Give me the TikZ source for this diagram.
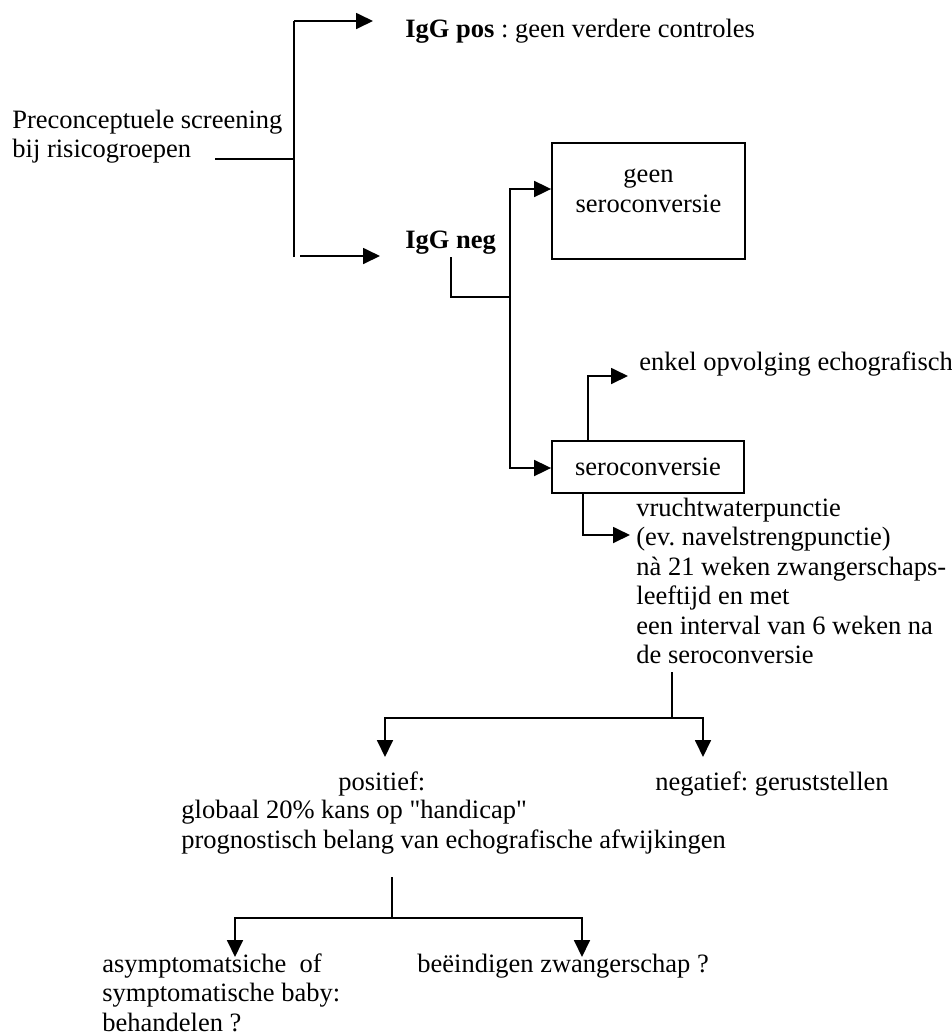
\documentclass[tikz,border=0pt]{standalone}
\usepackage{fontspec}
\setmainfont{Liberation Serif}
\newfontfamily\qfont{Liberation Serif}
\usetikzlibrary{arrows.meta}
\frenchspacing
\newcommand{\sq}{{\qfont\char34}}
\begin{document}
\begin{tikzpicture}[x=0.5pt,y=-0.5pt,
  txt/.style={anchor=base west,inner sep=0pt,align=left,font=\fontsize{13.25pt}{14.75pt}\selectfont},
  ln/.style={line width=0.9pt},
  arr/.style={ln,-{Triangle[length=8.5pt,width=8pt]}},
  box/.style={draw,line width=0.9pt,inner sep=0pt,font=\fontsize{13.25pt}{14.75pt}\selectfont}]
\useasboundingbox (0,0) rectangle (952,1035);

% texts (multi-line nodes are placed at the baseline of their last line)
\node[txt] (pre) at (12,157.5) {Preconceptuele screening\\bij risicogroepen};
\node[txt] (pos) at (405,37) {\textbf{IgG pos} : geen verdere controles};
\node[txt] (neg) at (405,248) {\textbf{IgG neg}};
\node[box, minimum width=96.5pt, minimum height=58pt] (geen) at (648.5,201) {};
\node[txt, anchor=base, align=center] (geentxt) at (648.5,212) {geen\\seroconversie};
\node[box, minimum width=96pt, minimum height=26pt] (sero) at (648,467) {seroconversie};
\node[txt] (enkel) at (639,370) {enkel opvolging echografisch};
\node[txt] (vrucht) at (636,663.5) {vruchtwaterpunctie\\(ev. navelstrengpunctie)\\nà 21 weken zwangerschaps-\\leeftijd en met\\een interval van 6 weken na\\de seroconversie};
\node[txt] (positief) at (338,790) {positief:};
\node[txt] (globaal) at (181,848) {globaal 20\% kans op \sq handicap\sq\\prognostisch belang van echografische afwijkingen};
\node[txt] (negatief) at (655,790) {negatief: geruststellen};
\node[txt] (asym) at (102,1031) {asymptomatsiche~ of\\symptomatische baby:\\behandelen ?};
\node[txt] (beeind) at (417,972) {beëindigen zwangerschap ?};

% top fork
\coordinate (c1) at (215,159);
\coordinate (c2) at (294,159);
\coordinate (c3) at (294,21);
\coordinate (c4) at (294,257);
\coordinate (t1) at (373,21);
\coordinate (s2) at (300,256);
\coordinate (t2) at (380,256);
\draw[ln] (c1) -- (c2);
\draw[ln] (c4) -- (c3);
\draw[arr] (c3) -- (t1);
\draw[arr] (s2) -- (t2);

% IgG neg branch
\coordinate (n1) at (451,257);
\coordinate (n3) at (510,297);
\coordinate (n4) at (510,189);
\coordinate (n5) at (510,468);
\draw[ln] (n1) |- (n3);
\draw[arr] (n5) -- (n4) -- (geen.west |- n4);
\draw[arr] (n4) -- (n5) -- (sero.west |- n5);

% enkel opvolging
\coordinate (e1) at (588,376);
\coordinate (e2) at (628,376);
\draw[arr] (sero.north -| e1) -- (e1) -- (e2);

% vruchtwaterpunctie
\coordinate (v1) at (583,535);
\coordinate (v2) at (630,535);
\draw[arr] (sero.south -| v1) -- (v1) -- (v2);

% positief / negatief fork
\coordinate (d1) at (672,672);
\coordinate (d2) at (672,718);
\coordinate (d3) at (385,718);
\coordinate (d4) at (703,718);
\coordinate (d5) at (385,757);
\coordinate (d6) at (703,757);
\draw[ln] (d1) -- (d2);
\draw[arr] (d2) -- (d3) -- (d5);
\draw[arr] (d2) -- (d4) -- (d6);

% bottom fork
\coordinate (p1) at (392,877);
\coordinate (p2) at (392,918);
\coordinate (p3) at (235,918);
\coordinate (p4) at (582,918);
\coordinate (p5) at (235,957);
\coordinate (p6) at (582,957);
\draw[ln] (p1) -- (p2);
\draw[arr] (p2) -- (p3) -- (p5);
\draw[arr] (p2) -- (p4) -- (p6);
\end{tikzpicture}
\end{document}
